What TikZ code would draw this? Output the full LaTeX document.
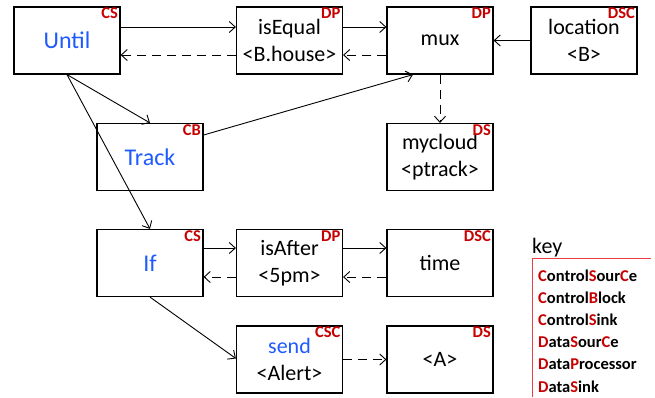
\documentclass[tikz,border=0pt]{standalone}
\usepackage{fontspec}
\setmainfont{Carlito}
\usepackage{xcolor}
\usetikzlibrary{arrows.meta,calc}
\definecolor{ctlblue}{RGB}{30,90,255}
\definecolor{tagred}{RGB}{200,0,0}
\definecolor{keyred}{RGB}{235,60,70}
\tikzset{
	block/.style={draw, line width=1.2pt, minimum width=106pt, minimum height=67pt,
			inner sep=0pt, align=center, font=\fontsize{22}{27}\selectfont},
	ctl/.style={text=ctlblue, font=\fontsize{24}{27}\selectfont},
	tag/.style={anchor=north east, inner sep=0pt, xshift=-2.5pt, yshift=-1.5pt, text=tagred,
			font=\fontsize{16.5}{16.5}\selectfont\bfseries},
	flow/.style={-{Straight Barb[length=6pt,width=11pt]}, line width=0.9pt},
	back/.style={flow, dash pattern=on 9pt off 6pt},
	keyitem/.style={anchor=west, inner sep=0pt, font=\fontsize{16.5}{16.5}\selectfont\bfseries}
}
\newcommand{\kr}[1]{\textcolor{tagred}{#1}}

\begin{document}
\begin{tikzpicture}[x=1pt, y=-1pt]
		\useasboundingbox (0, 0) rectangle (655, 397);

		\node [block, ctl]	(until)		at (67, 40.5)	{Until};
		\node [block]		(isequal)	at (289.5, 40.5)	{isEqual\\<B.house>};
		\node [block]		(mux)		at (440, 40.5)	{mux};
		\node [block]		(location)	at (584, 40.5)	{location\\<B>};
		\node [block, ctl]	(track)		at (150, 157)	{Track};
		\node [block]		(mycloud)	at (440, 157)	{mycloud\\<ptrack>};
		\node [block, ctl]	(if)		at (150, 263)	{If};
		\node [block]		(isafter)	at (289.5, 263)	{isAfter\\<5pm>};
		\node [block]		(time)		at (440, 263)	{time};
		\node [block]		(send)		at (289.5, 359.5)	{\textcolor{ctlblue}{send}\\<Alert>};
		\node [block]		(a)			at (440, 359.5)	{<A>};

		\node [tag] at (until.north east)		{CS};
		\node [tag] at (isequal.north east)		{DP};
		\node [tag] at (mux.north east)			{DP};
		\node [tag] at (location.north east)	{DSC};
		\node [tag] at (track.north east)		{CB};
		\node [tag] at (mycloud.north east)		{DS};
		\node [tag] at (if.north east)			{CS};
		\node [tag] at (isafter.north east)		{DP};
		\node [tag] at (time.north east)		{DSC};
		\node [tag] at (send.north east)		{CSC};
		\node [tag] at (a.north east)			{DS};

		\draw [flow]	([yshift=13.5pt]until.east) -- ([yshift=13.5pt]isequal.west);
		\draw [back]	([yshift=-14.5pt]isequal.west) -- ([yshift=-14.5pt]until.east);
		\draw [flow]	([yshift=13.5pt]isequal.east) -- ([yshift=13.5pt]mux.west);
		\draw [back]	([yshift=-14.5pt]mux.west) -- ([yshift=-14.5pt]isequal.east);
		\draw [flow]	(location.west) -- (mux.east);
		\draw [back]	(mux.south) -- (mycloud.north);
		\draw [flow]	(until.south) -- (track.north);
		\draw [flow]	(until.south) -- (if.north);
		\draw [flow]	([yshift=22pt]track.east) -- ([xshift=-27pt]mux.south);

		\draw [flow]	([yshift=15pt]if.east) -- ([yshift=15pt]isafter.west);
		\draw [back]	([yshift=-14pt]isafter.west) -- ([yshift=-14pt]if.east);
		\draw [flow]	([yshift=15pt]isafter.east) -- ([yshift=15pt]time.west);
		\draw [back]	([yshift=-14pt]time.west) -- ([yshift=-14pt]isafter.east);
		\draw [flow]	(if.south) -- ([yshift=1pt]send.west);
		\draw [back]	(send.east) -- (a.west);

		% key
		\node [anchor=base west, inner sep=0pt, font=\fontsize{22}{22}\selectfont] (key) at (532, 253) {key};
		\draw [keyred, line width=1pt]	(532, 397) -- (532, 258) -- (651, 258);
		\node [keyitem] (k1) at (538, 275.5) {\kr{C}ontrol\kr{S}our\kr{C}e};
		\node [keyitem] (k2) at (538, 297.5) {\kr{C}ontrol\kr{B}lock};
		\node [keyitem] (k3) at (538, 319.5) {\kr{C}ontrol\kr{S}ink};
		\node [keyitem] (k4) at (538, 342) {\kr{D}ata\kr{S}our\kr{C}e};
		\node [keyitem] (k5) at (538, 364) {\kr{D}ata\kr{P}rocessor};
		\node [keyitem] (k6) at (538, 386.5) {\kr{D}ata\kr{S}ink};
	\end{tikzpicture}
\end{document}
